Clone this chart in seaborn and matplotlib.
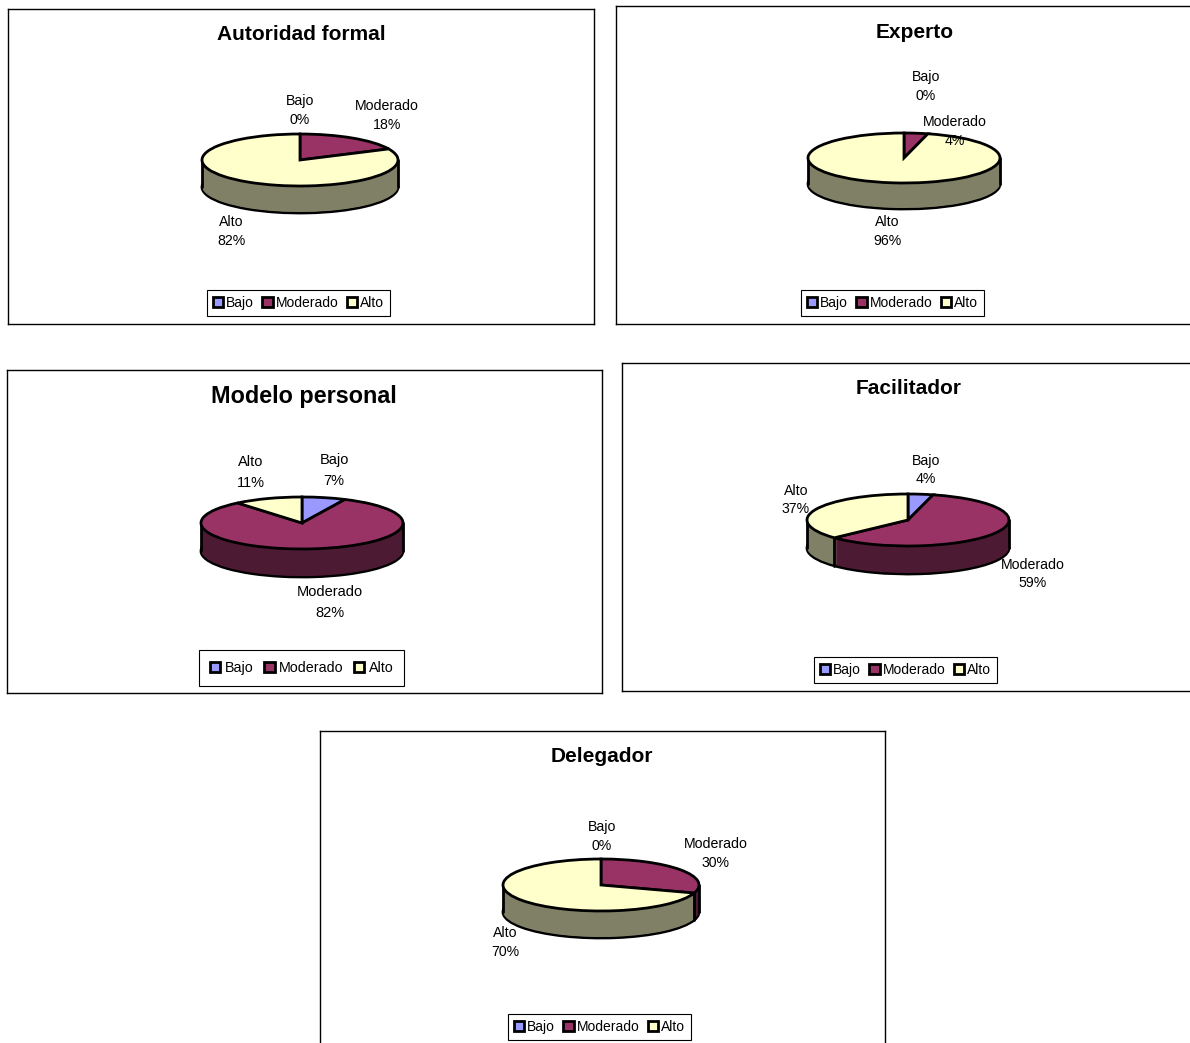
import math
import matplotlib
matplotlib.use("Agg")
import matplotlib.pyplot as plt
import seaborn as sns

# ---------- data ----------
CATEGORIES = ["Bajo", "Moderado", "Alto"]
TITLES = ["Autoridad formal", "Experto", "Modelo personal", "Facilitador", "Delegador"]
AUTORIDAD = [0, 18, 82]
EXPERTO = [0, 4, 96]
MODELO = [7, 82, 11]
FACILITADOR = [4, 59, 37]
DELEGADOR = [0, 30, 70]
SERIES = [AUTORIDAD, EXPERTO, MODELO, FACILITADOR, DELEGADOR]

# ---------- style / layout (pixels) ----------
W, H = 1190, 1043
sns.set_theme(style="white")
plt.rcParams["font.family"] = ["Liberation Sans", "DejaVu Sans"]
TOP = sns.color_palette(["#9999FF", "#993366", "#FFFFCC"])
SIDE = sns.color_palette(["#4D4D80", "#4D1A33", "#808066"])

LAYOUT = [
    dict(box=(8, 9, 594, 324), title=(301, 34), c=(300, 160), rx=98, ry=26, depth=27,
         labels=[(300, 110.5), (387, 115.5), (231, 231.5)], legend=(207, 303),
         fs=10.2, tfs=15, ls=1.37, tp=0.2, cs=0.6, bp=0.42),
    dict(box=(616, 6, 1200, 324), title=(915, 33), c=(904, 158), rx=96, ry=25, depth=26,
         labels=[(926, 86.5), (955, 131.5), (887, 231.5)], legend=(801, 303),
         fs=10.2, tfs=15, ls=1.37, tp=0.2, cs=0.6, bp=0.42),
    dict(box=(7, 370, 602, 693), title=(304, 396), c=(302, 523), rx=101, ry=26, depth=28,
         labels=[(334, 470.5), (330, 602.5), (251, 472.5)], legend=(199, 668),
         fs=10.5, tfs=16.8, ls=1.6, tp=0.3, cs=0.72, bp=0.75),
    dict(box=(622, 363, 1200, 691), title=(909, 388), c=(908, 520), rx=101, ry=26, depth=28,
         labels=[(926, 470), (1032.5, 574), (796, 500)], legend=(814, 670),
         fs=10.2, tfs=15, ls=1.37, tp=0.2, cs=0.6, bp=0.42),
    dict(box=(320, 731, 885, 1060), title=(602, 757), c=(601, 885), rx=98, ry=26, depth=27,
         labels=[(602, 836.5), (716, 853.5), (505, 942.5)], legend=(508, 1027),
         fs=10.2, tfs=15, ls=1.37, tp=0.2, cs=0.6, bp=0.42),
]

LW = 2.0
EDGE = dict(edgecolor="black", linewidth=LW)
fig = plt.figure(figsize=(W / 100, H / 100), dpi=100, facecolor="white")

for name, values, lay in zip(TITLES, SERIES, LAYOUT):
    x0, y0, x1, y1 = lay["box"]
    ax = fig.add_axes([x0 / W, 1 - y1 / H, (x1 - x0) / W, (y1 - y0) / H])
    rx, ry, depth = lay["rx"], lay["ry"], lay["depth"]
    k = rx / ry
    Y = lambda py: (y1 - py) * k
    cx, cy = lay["c"]
    pie_kw = dict(startangle=90, counterclock=False, radius=rx, normalize=True, frame=True)

    # side wall: outlined floor, then a stack of unlined layers, then the top face
    ax.pie(values, center=(cx, Y(cy + depth)), colors=SIDE, wedgeprops=EDGE, **pie_kw)
    for d in range(depth - 1, 0, -1):
        ax.pie(values, center=(cx, Y(cy + d)), colors=SIDE,
               wedgeprops=dict(linewidth=0), **pie_kw)

    # vertical edges: the two extremes plus slice boundaries facing the viewer
    ax.plot([cx - rx, cx - rx], [Y(cy), Y(cy + depth)], color="black", lw=LW, zorder=5)
    ax.plot([cx + rx, cx + rx], [Y(cy), Y(cy + depth)], color="black", lw=LW, zorder=5)
    total = sum(values)
    cum = 0
    for v in values:
        cum += v
        th = math.radians(90 - 360 * cum / total)
        if math.sin(th) < -1e-6:
            px = cx + rx * math.cos(th)
            py = cy - ry * math.sin(th)
            ax.plot([px, px], [Y(py), Y(py + depth)], color="black", lw=LW, zorder=5)

    wedges, _ = ax.pie(values, center=(cx, Y(cy)), colors=TOP, wedgeprops=EDGE, **pie_kw)
    for w in wedges:
        w.set_zorder(6)

    ax.set_aspect("auto")
    ax.set_xlim(x0, x1)
    ax.set_ylim(0, (y1 - y0) * k)
    ax.set_xticks([])
    ax.set_yticks([])
    ax.set_frame_on(True)
    for s in ax.spines.values():
        s.set_visible(True)
        s.set_color("black")
        s.set_linewidth(1.0)

    ax.text(lay["title"][0], Y(lay["title"][1]), name, ha="center", va="center",
            fontsize=lay["tfs"], fontweight="bold", color="black")
    for cat, v, (lx, ly) in zip(CATEGORIES, values, lay["labels"]):
        ax.text(lx, Y(ly), f"{cat}\n{v}%", ha="center", va="center", fontsize=lay["fs"],
                color="black", linespacing=lay["ls"], zorder=8)

    leg = ax.legend(wedges, CATEGORIES, loc="center left", borderaxespad=0,
                    bbox_to_anchor=(lay["legend"][0] / W, 1 - lay["legend"][1] / H),
                    bbox_transform=fig.transFigure, ncol=3, frameon=True, fancybox=False,
                    framealpha=1, edgecolor="black", fontsize=lay["fs"] - 0.2,
                    handlelength=0.75, handleheight=0.75, handletextpad=lay["tp"],
                    columnspacing=lay["cs"], borderpad=lay["bp"], labelcolor="black")
    leg.get_frame().set_linewidth(0.8)

fig.savefig("out.png", dpi=100, facecolor="white")
